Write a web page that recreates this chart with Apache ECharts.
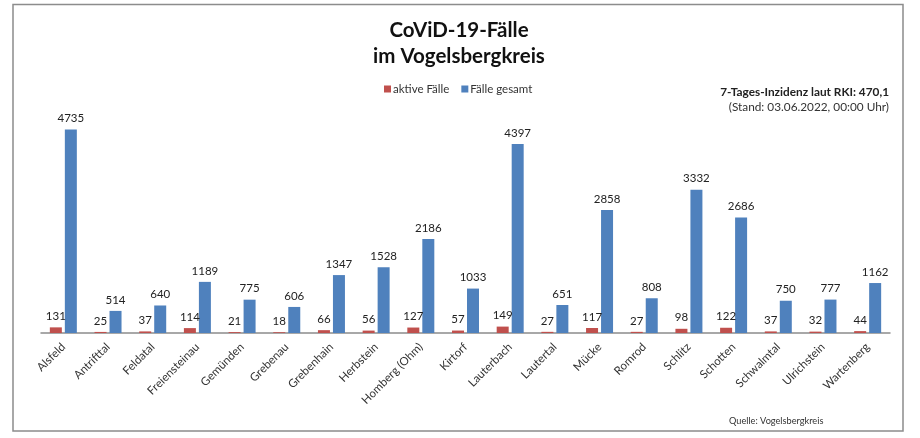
<!DOCTYPE html>
<html>
<head>
<meta charset="utf-8">
<script src="https://cdn.jsdelivr.net/npm/echarts@6/dist/echarts.min.js"></script>
<style>
  html, body { margin: 0; padding: 0; background: #fff; }
  #chart { width: 920px; height: 438px; }
</style>
</head>
<body>
<div id="chart"></div>
<script>
const gemeinden = ['Alsfeld', 'Antrifttal', 'Feldatal', 'Freiensteinau', 'Gemünden', 'Grebenau', 'Grebenhain', 'Herbstein', 'Homberg (Ohm)', 'Kirtorf', 'Lauterbach', 'Lautertal', 'Mücke', 'Romrod', 'Schlitz', 'Schotten', 'Schwalmtal', 'Ulrichstein', 'Wartenberg'];
const aktiveFaelle = [131, 25, 37, 114, 21, 18, 66, 56, 127, 57, 149, 27, 117, 27, 98, 122, 37, 32, 44];
const faelleGesamt = [4735, 514, 640, 1189, 775, 606, 1347, 1528, 2186, 1033, 4397, 651, 2858, 808, 3332, 2686, 750, 777, 1162];

const font = 'Lato';
const chart = echarts.init(document.getElementById('chart'));

const barLabel = {
  show: true,
  position: 'top',
  distance: 5,
  fontFamily: font,
  fontSize: 11.5,
  color: '#222'
};

chart.setOption({
  animation: false,
  backgroundColor: '#fff',
  title: [
    {
      text: 'CoViD-19-Fälle\nim Vogelsbergkreis',
      left: 454,
      top: 12,
      textAlign: 'center',
      textStyle: { fontFamily: font, fontSize: 20.5, fontWeight: 'bold', color: '#111', lineHeight: 26 }
    },
    {
      text: '7-Tages-Inzidenz laut RKI: 470,1',
      right: 26,
      top: 81,
      textStyle: { fontFamily: font, fontSize: 11.8, fontWeight: 'bold', color: '#222' }
    },
    {
      text: '(Stand: 03.06.2022, 00:00 Uhr)',
      right: 26,
      top: 96,
      textStyle: { fontFamily: font, fontSize: 11.8, fontWeight: 'normal', color: '#333' }
    },
    {
      text: 'Quelle: Vogelsbergkreis',
      left: 724,
      top: 412,
      textStyle: { fontFamily: font, fontSize: 9.2, fontWeight: 'normal', color: '#333' }
    }
  ],
  legend: {
    left: 379,
    top: 78,
    itemWidth: 7,
    itemHeight: 7,
    itemGap: 12,
    icon: 'rect',
    textStyle: { fontFamily: font, fontSize: 11.5, color: '#333', padding: [0, 0, 0, -3] },
    data: ['aktive Fälle', 'Fälle gesamt']
  },
  grid: { left: 41, right: 30, top: 118, bottom: 105 },
  xAxis: {
    type: 'category',
    data: gemeinden,
    axisLine: { lineStyle: { color: '#8c8c8c', width: 1.5 } },
    axisTick: { show: false },
    axisLabel: {
      rotate: 45,
      interval: 0,
      margin: 12,
      fontFamily: font,
      fontSize: 11.5,
      color: '#333'
    }
  },
  yAxis: { type: 'value', min: 0, max: 5000, show: false },
  series: [
    {
      name: 'aktive Fälle',
      type: 'bar',
      data: aktiveFaelle,
      barWidth: 12,
      barGap: '25%',
      itemStyle: { color: '#C0504D' },
      label: barLabel
    },
    {
      name: 'Fälle gesamt',
      type: 'bar',
      data: faelleGesamt,
      barWidth: 12,
      itemStyle: { color: '#4F81BD' },
      label: barLabel
    }
  ],
  graphic: [
    {
      type: 'rect',
      silent: true,
      z: -1,
      shape: { x: 13, y: 4.5, width: 890, height: 426.5 },
      style: { fill: 'none', stroke: '#8c8c8c', lineWidth: 1.5 }
    }
  ]
});
</script>
</body>
</html>
